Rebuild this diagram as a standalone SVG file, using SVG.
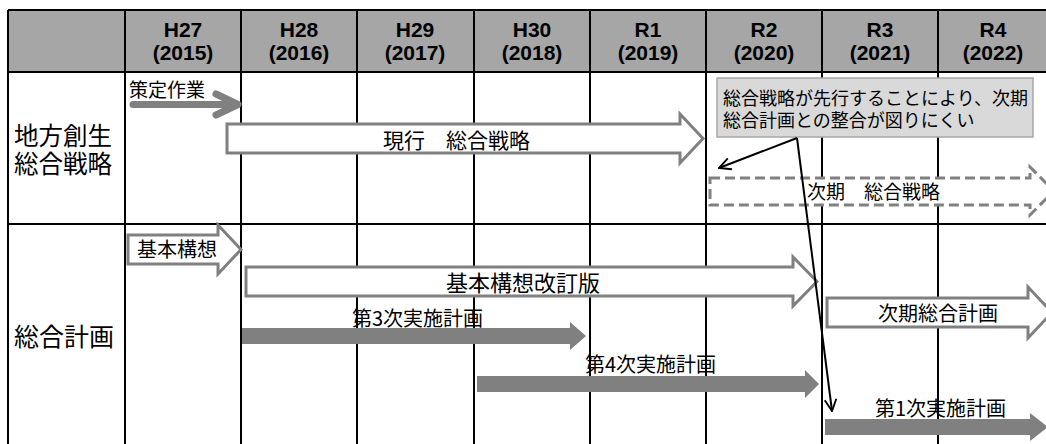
<svg xmlns="http://www.w3.org/2000/svg" width="1046" height="444" viewBox="0 0 1046 444">
<style>
.grid{stroke:#000;stroke-width:2;fill:none}
.hdr{font-family:"Liberation Sans",Arial,sans-serif;font-weight:bold;font-size:21px;fill:#000;text-anchor:middle}
.jp{font-family:"Noto Sans CJK JP","Noto Sans CJK SC",sans-serif;fill:#000}
.out{fill:#fff;stroke:#808080;stroke-width:3;stroke-linejoin:miter}
.dash{fill:#fff;stroke:#808080;stroke-width:3;stroke-dasharray:10 5}
.solid{fill:#808080;stroke:none}
.call{stroke:#000;stroke-width:2;fill:none}
</style>
<defs>
<marker id="open" viewBox="0 0 12 12" refX="11" refY="6" markerWidth="14" markerHeight="14" markerUnits="userSpaceOnUse" orient="auto">
<path d="M1,1 L11,6 L1,11" fill="none" stroke="#000" stroke-width="1.6"/>
</marker>
</defs>
<rect x="0" y="0" width="1046" height="444" fill="#fff"/>
<g id="table">
<rect x="8" y="10" width="1040" height="62" fill="#a6a6a6"/>
<path class="grid" d="M8,10 V444 M125,10 V444 M241,10 V444 M357,10 V444 M474,10 V444 M590,10 V444 M706,10 V444 M822,10 V444 M938,10 V444 M8,10 H1046 M8,72 H1046 M8,224 H1046"/>
<text class="hdr" x="183" y="37">H27</text><text class="hdr" x="183" y="60">(2015)</text>
<text class="hdr" x="299" y="37">H28</text><text class="hdr" x="299" y="60">(2016)</text>
<text class="hdr" x="415" y="37">H29</text><text class="hdr" x="415" y="60">(2017)</text>
<text class="hdr" x="532" y="37">H30</text><text class="hdr" x="532" y="60">(2018)</text>
<text class="hdr" x="648" y="37">R1</text><text class="hdr" x="648" y="60">(2019)</text>
<text class="hdr" x="764" y="37">R2</text><text class="hdr" x="764" y="60">(2020)</text>
<text class="hdr" x="880" y="37">R3</text><text class="hdr" x="880" y="60">(2021)</text>
<text class="hdr" x="993" y="37">R4</text><text class="hdr" x="993" y="60">(2022)</text>
<text class="jp" font-size="24.5"><tspan x="14" y="145">地方創生</tspan><tspan x="14" y="173">総合戦略</tspan></text>
<text class="jp" x="14" y="346" font-size="25">総合計画</text>
</g>
<g id="sakutei">
<path d="M133,104.5 H236 M216,94 L238,104.5 L216,115" fill="none" stroke="#808080" stroke-width="7" stroke-linecap="round" stroke-linejoin="round"/>
<text class="jp" x="129" y="97" font-size="19">策定作業</text>
</g>
<g id="genko">
<path class="out" d="M227,124 H680 V114 L703,138.5 L680,163 V153 H227 Z"/>
<text class="jp" x="383" y="148" font-size="21">現行　総合戦略</text>
</g>
<g id="jiki-senryaku">
<path class="dash" d="M710,178 H1030 V167 L1054,191 L1030,215 V205 H710 Z"/>
<text class="jp" x="807" y="199" font-size="19">次期　総合戦略</text>
</g>
<g id="kihon">
<path class="out" d="M128,235 H218 V225 L241,249.5 L218,274 V264 H128 Z"/>
<text class="jp" x="137" y="257" font-size="20">基本構想</text>
</g>
<g id="kihon-kaitei">
<path class="out" d="M246,267 H793 V257 L817,281.5 L793,306 V296 H246 Z"/>
<text class="jp" x="446" y="291" font-size="22">基本構想改訂版</text>
</g>
<g id="jiki-keikaku">
<path class="out" d="M827,298 H1028 V287 L1052,312.5 L1028,338 V327 H827 Z"/>
<text class="jp" x="878" y="321" font-size="20">次期総合計画</text>
</g>
<g id="dai3">
<path class="solid" d="M242,328 H570 V322 L586,336 L570,350 V344 H242 Z"/>
<text class="jp" x="352" y="326" font-size="20">第3次実施計画</text>
</g>
<g id="dai4">
<path class="solid" d="M477,376 H805 V370 L819,384 L805,398 V392 H477 Z"/>
<text class="jp" x="585" y="372" font-size="20">第4次実施計画</text>
</g>
<g id="dai1">
<path class="solid" d="M825,419 H1030 V413 L1048,427 L1030,441 V435 H825 Z"/>
<text class="jp" x="875" y="416" font-size="20">第1次実施計画</text>
</g>
<g id="callout">
<rect x="717" y="78" width="316" height="59" fill="#d9d9d9" stroke="#a6a6a6" stroke-width="1.5"/>
<text class="jp" font-size="18"><tspan x="723" y="105">総合戦略が先行することにより、次期</tspan><tspan x="723" y="127">総合計画との整合が図りにくい</tspan></text>
</g>
<g id="connectors">
<path class="call" d="M797,138 L719,168" marker-end="url(#open)"/>
<path class="call" d="M797,138 L832,411" marker-end="url(#open)"/>
</g>
</svg>
